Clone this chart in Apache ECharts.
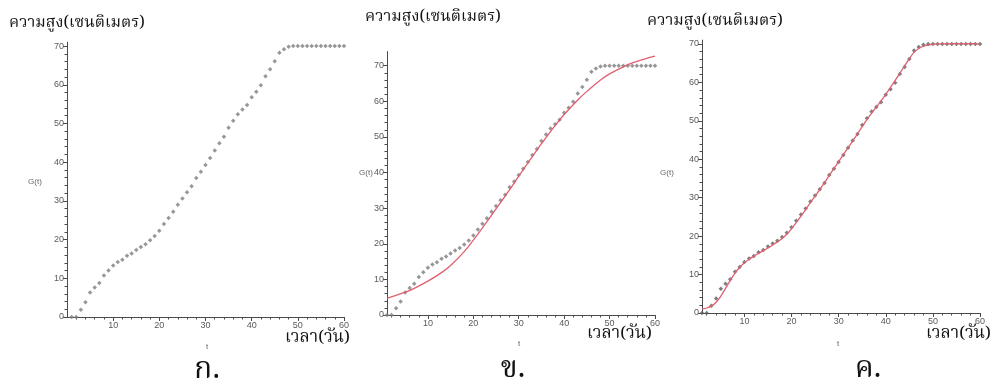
<!DOCTYPE html>
<html>
<head>
<meta charset="utf-8">
<script src="https://cdn.jsdelivr.net/npm/echarts@6/dist/echarts.min.js"></script>
<style>
  html, body { margin: 0; padding: 0; background: #ffffff; }
  #chart { width: 994px; height: 389px; }
</style>
</head>
<body>
<div id="chart"></div>
<script>
// Plant height (cm) measured each day
const days = [
  1, 2, 3, 4, 5, 6, 7, 8, 9, 10, 11, 12, 13, 14, 15, 16, 17, 18, 19, 20,
  21, 22, 23, 24, 25, 26, 27, 28, 29, 30, 31, 32, 33, 34, 35, 36, 37, 38, 39, 40,
  41, 42, 43, 44, 45, 46, 47, 48, 49, 50, 51, 52, 53, 54, 55, 56, 57, 58, 59, 60
];
const heights = [
  0, 0, 1.9, 3.8, 6.3, 7.6, 8.8, 10.7, 12.0, 13.3, 14.2, 14.8, 15.8, 16.4, 17.3, 18.1, 18.8, 19.8, 20.9, 22.3,
  24.0, 25.6, 27.2, 29.0, 30.6, 32.2, 33.8, 35.9, 37.5, 39.3, 41.1, 43.0, 44.9, 46.6, 48.9, 50.7, 52.4, 53.6, 54.8, 56.8,
  58.2, 59.9, 62.2, 64.0, 66.1, 68.3, 69.2, 69.8, 70, 70, 70, 70, 70, 70, 70, 70, 70, 70, 70, 70
];

// Logistic model curve (panel ข)
const logisticDays = [1, 3, 5, 7, 10, 13, 15, 18, 20, 23, 25, 28, 30, 33, 35, 38, 40, 43, 45, 48, 50, 53, 55, 58, 60];
const logisticValues = [4.7, 5.5, 6.4, 7.5, 9.5, 11.9, 13.9, 17.8, 21.0, 26.2, 29.8, 35.2, 39.0, 44.5, 48.1, 53.2, 56.3, 60.4, 62.8, 66.0, 67.7, 69.7, 70.8, 72.0, 72.7];

// Improved model curve (panel ค)
const modelDays = days;
const modelValues = [
  1.0, 1.3, 1.8, 2.8, 4.4, 6.4, 8.5, 10.4, 11.9, 13.1, 14.0, 14.8, 15.5, 16.2, 16.9, 17.7, 18.5, 19.4, 20.5, 21.9,
  23.5, 25.2, 26.9, 28.7, 30.4, 32.1, 33.9, 35.8, 37.6, 39.4, 41.2, 43.0, 44.8, 46.6, 48.5, 50.3, 52.0, 53.6, 55.2, 56.9,
  58.7, 60.5, 62.4, 64.3, 66.2, 67.8, 68.8, 69.4, 69.7, 69.9, 70.0, 70.0, 70.0, 70.1, 70.1, 70.1, 70.1, 70.1, 70.0, 70.0
];

// Tick values
const yLabelTicks = [0, 10, 20, 30, 40, 50, 60, 70];
const xLabelTicks = [10, 20, 30, 40, 50, 60];
const yMinorTicks = [2, 4, 6, 8, 12, 14, 16, 18, 22, 24, 26, 28, 32, 34, 36, 38, 42, 44, 46, 48, 52, 54, 56, 58, 62, 64, 66, 68];
const xMinorTicks = [2, 4, 6, 8, 12, 14, 16, 18, 22, 24, 26, 28, 32, 34, 36, 38, 42, 44, 46, 48, 52, 54, 56, 58];

const axisColor = '#4a4a4a';
const labelColor = '#5a5a5a';
const thaiFont = '"Noto Serif Thai", "Noto Sans Thai", "Loma", "Garuda", "Tlwg Typo", "DejaVu Serif", serif';

const panels = [
  { grid: { left: 67, top: 42.2, width: 277, height: 274.8 }, xMin: 0, yMax: 71 },
  { grid: { left: 387, top: 51.5, width: 268, height: 263.5 }, xMin: 1, yMax: 74 },
  { grid: { left: 702, top: 40.1, width: 278, height: 272.9 }, xMin: 1, yMax: 71 }
];

const grids = [], xAxes = [], yAxes = [], series = [];

panels.forEach((p, i) => {
  grids.push(p.grid);
  // labelled axis
  xAxes.push({
    type: 'value', gridIndex: i, position: 'bottom', min: p.xMin, max: 60,
    axisLine: { show: true, onZero: false, lineStyle: { color: axisColor, width: 1 } },
    axisTick: { show: true, length: 4, customValues: xLabelTicks, lineStyle: { color: axisColor } },
    axisLabel: { show: true, customValues: xLabelTicks, color: labelColor, fontSize: 9, fontFamily: 'Liberation Sans', margin: 4 },
    splitLine: { show: false }
  });
  // minor ticks
  xAxes.push({
    type: 'value', gridIndex: i, position: 'bottom', min: p.xMin, max: 60,
    axisLine: { show: false, onZero: false },
    axisTick: { show: true, length: 2.5, customValues: xMinorTicks, lineStyle: { color: axisColor } },
    axisLabel: { show: false, customValues: xMinorTicks },
    splitLine: { show: false }
  });
  yAxes.push({
    type: 'value', gridIndex: i, position: 'left', min: 0, max: p.yMax,
    axisLine: { show: true, onZero: false, lineStyle: { color: axisColor, width: 1 } },
    axisTick: { show: true, length: 4, customValues: yLabelTicks, lineStyle: { color: axisColor } },
    axisLabel: { show: true, customValues: yLabelTicks, color: labelColor, fontSize: 9, fontFamily: 'Liberation Sans', margin: 3 },
    splitLine: { show: false }
  });
  yAxes.push({
    type: 'value', gridIndex: i, position: 'left', min: 0, max: p.yMax,
    axisLine: { show: false, onZero: false },
    axisTick: { show: true, length: 2.5, customValues: yMinorTicks, lineStyle: { color: axisColor } },
    axisLabel: { show: false, customValues: yMinorTicks },
    splitLine: { show: false }
  });
});

function pairs(xs, ys) { return xs.map((x, k) => [x, ys[k]]); }

const pointStyle = {
  type: 'scatter', symbol: 'diamond', symbolSize: 4.5,
  itemStyle: { color: '#7d7d7d' }, silent: true, z: 3
};

series.push(Object.assign({ name: 'ส่วนสูง', xAxisIndex: 0, yAxisIndex: 0, data: pairs(days, heights) }, pointStyle));
series.push(Object.assign({ name: 'ส่วนสูง', xAxisIndex: 2, yAxisIndex: 2, data: pairs(days, heights) }, pointStyle));
series.push({
  name: 'logistic', type: 'line', xAxisIndex: 2, yAxisIndex: 2, smooth: 0.4, showSymbol: false,
  lineStyle: { color: '#e0606f', width: 1.3 }, data: pairs(logisticDays, logisticValues), z: 4, silent: true
});
series.push(Object.assign({ name: 'ส่วนสูง', xAxisIndex: 4, yAxisIndex: 4, data: pairs(days, heights) }, pointStyle, { itemStyle: { color: '#5e5e5e' } }));
series.push({
  name: 'model', type: 'line', xAxisIndex: 4, yAxisIndex: 4, smooth: 0.3, showSymbol: false,
  lineStyle: { color: '#e0606f', width: 1.3 }, data: pairs(modelDays, modelValues), z: 4, silent: true
});

// Axis captions and panel letters
const yTitle = 'ความสูง(เซนติเมตร)';
const xTitle = 'เวลา(วัน)';
const panelLetters = ['ก.', 'ข.', 'ค.'];
const captionPos = [
  { yt: [9, 24], xt: [285, 339], g: [35, 182], t: [207, 347], l: [207, 373] },
  { yt: [365, 18], xt: [587, 335], g: [366, 173], t: [519, 344], l: [513, 372] },
  { yt: [647, 22], xt: [926, 335], g: [667, 173], t: [838, 344], l: [868, 372] }
];
const graphics = [];
captionPos.forEach((c, i) => {
  graphics.push({ type: 'text', x: c.yt[0], y: c.yt[1], style: { text: yTitle, font: '16px ' + thaiFont, fill: '#111', verticalAlign: 'middle' } });
  graphics.push({ type: 'text', x: c.xt[0], y: c.xt[1], style: { text: xTitle, font: '17px ' + thaiFont, fill: '#111', verticalAlign: 'middle' } });
  graphics.push({ type: 'text', x: c.g[0], y: c.g[1], style: { text: 'G(t)', font: '8px "Liberation Sans"', fill: '#666', align: 'center', verticalAlign: 'middle' } });
  graphics.push({ type: 'text', x: c.t[0], y: c.t[1], style: { text: 't', font: '8px "Liberation Sans"', fill: '#666', align: 'center', verticalAlign: 'middle' } });
  graphics.push({ type: 'text', x: c.l[0], y: c.l[1], style: { text: panelLetters[i], font: '30px ' + thaiFont, fill: '#111', align: 'center', verticalAlign: 'middle' } });
});

const chart = echarts.init(document.getElementById('chart'), null, { renderer: 'canvas' });
chart.setOption({
  animation: false,
  backgroundColor: '#ffffff',
  grid: grids,
  xAxis: xAxes,
  yAxis: yAxes,
  series: series,
  graphic: graphics
});
</script>
</body>
</html>
